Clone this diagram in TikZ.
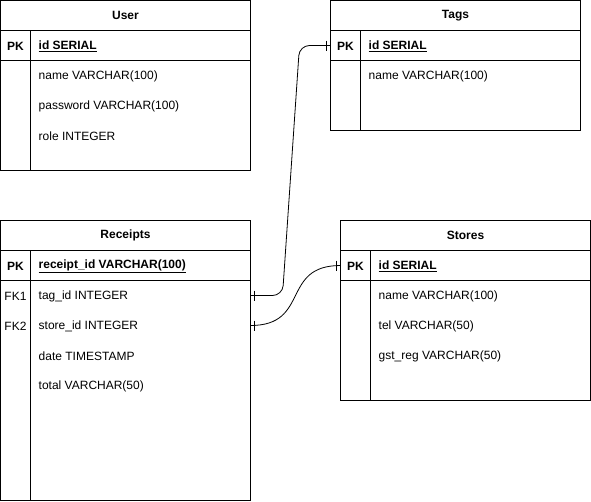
\documentclass[tikz,border=0pt]{standalone}
\usepackage{fontspec}
\setmainfont{Liberation Sans}
\usepackage{tikz}
\usetikzlibrary{positioning}
\tikzset{
  row/.style={draw=black,line width=1pt,anchor=north west,inner sep=0pt,outer sep=0pt,
    minimum width=250pt,minimum height=30pt},
  hd/.style={row,font=\bfseries},
  key/.style={anchor=center,inner sep=0pt},
  fld/.style={anchor=west,inner sep=0pt},
  rel/.style={draw=black,line width=0.8pt,rounded corners=10pt},
  one/.style={draw=black,line width=0.8pt},
}

\begin{document}
\fontsize{12}{14}\selectfont
\begin{tikzpicture}[x=1pt,y=-1pt]
\useasboundingbox (-0.5,-0.5) rectangle (590.5,500.5);
% User
\node[hd] (us) at (0,0) {User};
\node[row,below=0pt of us] (uspk) {};
\node[row,below=0pt of uspk,minimum height=110pt] (usbd) {};
\draw[line width=1pt] ([xshift=30pt]uspk.north west) -- ([xshift=30pt]usbd.south west);
\node[key,font=\bfseries] (usk) at (15,46) {PK};
\node[fld,font=\bfseries] (us-id) at (38,46) {\underline{id SERIAL}};
\node[fld] (us-name) at (38,76) {name VARCHAR(100)};
\node[fld] (us-pw) at (38,106) {password VARCHAR(100)};
\node[fld] (us-role) at (38,136) {role INTEGER};
% Tags
\node[hd] (tg) at (330,0) {Tags};
\node[row,below=0pt of tg] (tgpk) {};
\node[row,below=0pt of tgpk,minimum height=70pt] (tgbd) {};
\draw[line width=1pt] ([xshift=30pt]tgpk.north west) -- ([xshift=30pt]tgbd.south west);
\node[key,font=\bfseries] (tgk) at (345,46) {PK};
\node[fld,font=\bfseries] (tg-id) at (368,46) {\underline{id SERIAL}};
\node[fld] (tg-name) at (368,76) {name VARCHAR(100)};
% Receipts
\node[hd] (rc) at (0,220) {Receipts};
\node[row,below=0pt of rc] (rcpk) {};
\node[row,below=0pt of rcpk,minimum height=220pt] (rcbd) {};
\draw[line width=1pt] ([xshift=30pt]rcpk.north west) -- ([xshift=30pt]rcbd.south west);
\node[key,font=\bfseries] (rck) at (15,266) {PK};
\node[fld,font=\bfseries] (rc-id) at (38,266) {\underline{receipt\_id VARCHAR(100)}};
\node[key] (rcfk1) at (15,296) {FK1};
\node[fld] (rc-tag) at (38,296) {tag\_id INTEGER};
\node[key] (rcfk2) at (15,326) {FK2};
\node[fld] (rc-store) at (38,326) {store\_id INTEGER};
\node[fld] (rc-date) at (38,356) {date TIMESTAMP};
\node[fld] (rc-total) at (38,386) {total VARCHAR(50)};
% Stores
\node[hd] (st) at (340,220) {Stores};
\node[row,below=0pt of st] (stpk) {};
\node[row,below=0pt of stpk,minimum height=120pt] (stbd) {};
\draw[line width=1pt] ([xshift=30pt]stpk.north west) -- ([xshift=30pt]stbd.south west);
\node[key,font=\bfseries] (stk) at (355,266) {PK};
\node[fld,font=\bfseries] (st-id) at (378,266) {\underline{id SERIAL}};
\node[fld] (st-name) at (378,296) {name VARCHAR(100)};
\node[fld] (st-tel) at (378,326) {tel VARCHAR(50)};
\node[fld] (st-gst) at (378,356) {gst\_reg VARCHAR(50)};
% relations
\coordinate (a1) at (250,295);
\coordinate (b1) at (tgpk.west);
\coordinate (a2) at (250,325);
\coordinate (b2) at (stpk.west);
\draw[rel] (a1) -- (282,295) -- (299,45) -- (b1);
\draw[rel] (a2) .. controls (310,325) and (280,265) .. (b2);
\draw[one] ([xshift=4pt,yshift=5pt]a1) -- ([xshift=4pt,yshift=-5pt]a1);
\draw[one] ([xshift=4pt,yshift=5pt]a2) -- ([xshift=4pt,yshift=-5pt]a2);
\draw[one] ([xshift=-4pt,yshift=5pt]b1) -- ([xshift=-4pt,yshift=-5pt]b1);
\draw[one] ([xshift=-4pt,yshift=5pt]b2) -- ([xshift=-4pt,yshift=-5pt]b2);
\end{tikzpicture}
\end{document}
